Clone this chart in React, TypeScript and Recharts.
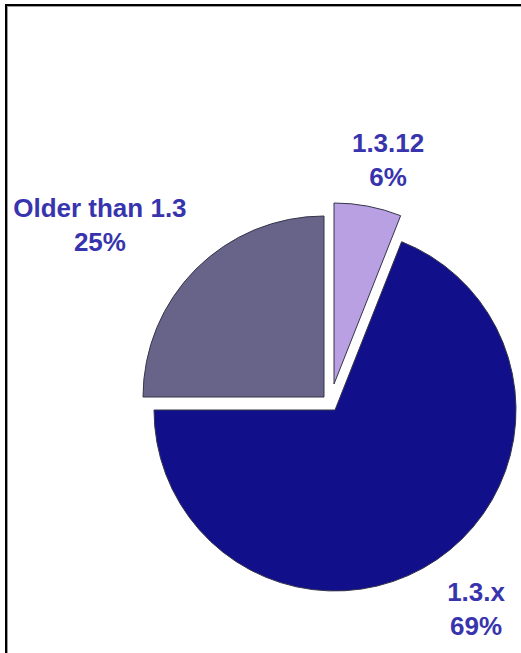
import { PieChart, Pie, Cell } from 'recharts';

const versions = ['Older than 1.3', '1.3.12', '1.3.x'];
const shares = [25, 6, 69];
const colors = ['#686489', '#b9a0e3', '#11108a'];

const data = versions.map((name, i) => ({ name, value: shares[i] }));

// pull-out offset of each slice and where its label sits (polar, from slice centre)
const explode = [
  { dx: -11, dy: -13 },
  { dx: -1, dy: -26 },
  { dx: 0, dy: 0 },
];
const labelPlace = [
  { r: 277, turn: 9 },
  { r: 222, turn: -3.3 },
  { r: 251, turn: 0 },
];

const CX = 335;
const CY = 410;
const R = 181;
const RAD = Math.PI / 180;

const makeLabel = (slice: number) => (props: any) => {
  const { cx, cy, midAngle, index } = props;
  if (index !== slice) return <g />;
  const a = (midAngle + labelPlace[slice].turn) * RAD;
  const x = cx + labelPlace[slice].r * Math.cos(a);
  const y = cy - labelPlace[slice].r * Math.sin(a);
  return (
    <text
      x={x}
      y={y}
      textAnchor="middle"
      fill="#3834ae"
      fontFamily="'Liberation Sans', Arial, sans-serif"
      fontWeight="bold"
      fontSize={26}
    >
      <tspan x={x} dy={-17}>{data[slice].name}</tspan>
      <tspan x={x} dy={34}>{data[slice].value}%</tspan>
    </text>
  );
};

export default function App() {
  return (
    <div style={{ position: 'absolute', left: 0, top: 0, width: 521, height: 653, background: '#fff', overflow: 'hidden' }}>
      <div style={{ position: 'absolute', left: 5, top: 4, width: 520, height: 660, borderTop: '2px solid #000', borderLeft: '2px solid #000' }} />
      <div style={{ position: 'absolute', left: 7, top: 6, width: 520, height: 660, borderTop: '1px solid #9a9a9a', borderLeft: '1px solid #9a9a9a' }} />
      <PieChart width={521} height={653} margin={{ top: 0, right: 0, bottom: 0, left: 0 }} style={{ position: 'absolute', left: 0, top: 0 }}>
        {data.map((d, slice) => (
          <Pie
            key={d.name}
            data={data}
            dataKey="value"
            nameKey="name"
            cx={CX + explode[slice].dx}
            cy={CY + explode[slice].dy}
            outerRadius={R}
            startAngle={180}
            endAngle={-180}
            label={makeLabel(slice)}
            labelLine={false}
            isAnimationActive={false}
          >
            {data.map((e, i) => (
              <Cell
                key={e.name}
                fill={i === slice ? colors[i] : 'none'}
                stroke={i === slice ? '#34344a' : 'none'}
                strokeWidth={1}
              />
            ))}
          </Pie>
        ))}
      </PieChart>
    </div>
  );
}
